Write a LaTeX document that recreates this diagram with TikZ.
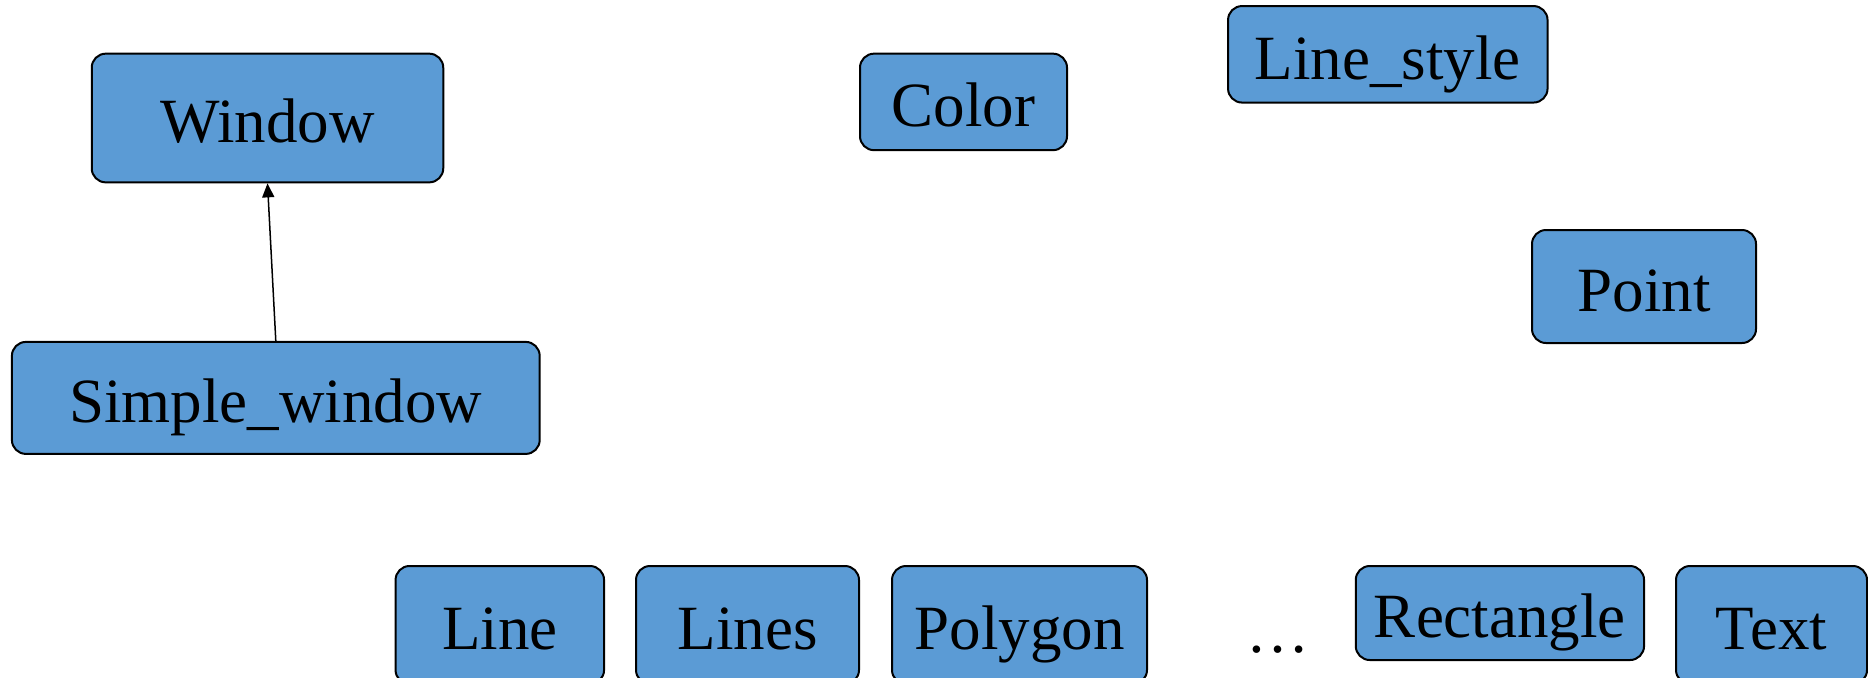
\documentclass[tikz,border=0pt]{standalone}
\usepackage{fontspec}
\setmainfont{Liberation Serif}
\usetikzlibrary{arrows.meta}
\definecolor{boxblue}{HTML}{5B9BD5}
\begin{document}
\begin{tikzpicture}[x=0.5pt,y=-0.5pt,
  cls/.style={draw=black, line width=1pt, fill=boxblue, rounded corners=7pt,
    inner sep=0pt, text height=24.7pt, text depth=0pt,
    font=\fontsize{31.5}{36}\selectfont, text=black},
  inh/.style={line width=0.75pt, -{Triangle[length=7pt,width=6pt]}}]
\useasboundingbox (0,0) rectangle (1868,677);
\node[cls, minimum width=351.5*0.5pt, minimum height=128.7*0.5pt] (win) at (267.5,118) {Window};
\node[cls, minimum width=527.8*0.5pt, minimum height=112*0.5pt] (sw) at (275.8,397.9) {Simple\_window};
\node[cls, minimum width=207*0.5pt, minimum height=96.5*0.5pt] (color) at (963.5,101.9) {Color};
\node[cls, minimum width=319.5*0.5pt, minimum height=96.5*0.5pt] (ls) at (1387.8,54.3) {Line\_style};
\node[cls, minimum width=224*0.5pt, minimum height=113*0.5pt] (point) at (1644,286.5) {Point};
\node[cls, minimum width=208.5*0.5pt, minimum height=118*0.5pt] (line) at (499.8,625) {Line};
\node[cls, minimum width=223*0.5pt, minimum height=118*0.5pt] (lines) at (747.5,625) {Lines};
\node[cls, minimum width=255*0.5pt, minimum height=118*0.5pt] (poly) at (1019.5,625) {Polygon};
\node[cls, minimum width=288.3*0.5pt, minimum height=94*0.5pt] (rect) at (1499.9,613) {Rectangle};
\node[cls, minimum width=191*0.5pt, minimum height=118*0.5pt] (text) at (1771.5,625) {Text};
\node[anchor=base, inner sep=0pt, font=\fontsize{31.5}{36}\selectfont] (dots) at (1278,652) {\dots};
\draw[inh] (sw.north) -- (win.south);
\end{tikzpicture}
\end{document}
